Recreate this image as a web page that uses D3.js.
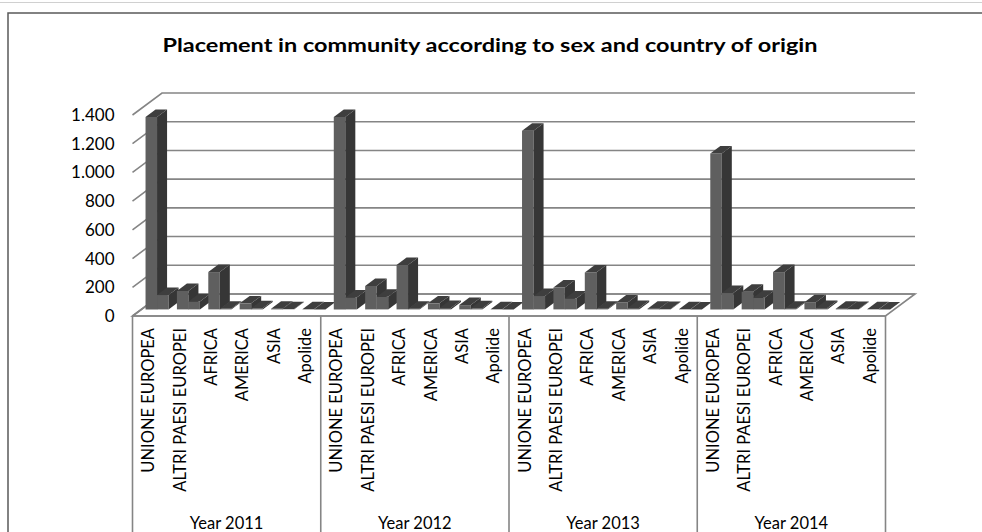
<!DOCTYPE html>
<html>
<head>
<meta charset="utf-8">
<script src="https://cdn.jsdelivr.net/npm/d3@7"></script>
<style>
  html, body { margin: 0; padding: 0; background: #fff; }
  svg { display: block; font-family: Lato, "Open Sans", sans-serif; }
</style>
</head>
<body>
<div id="chart"></div>
<script>
// data
const years = ["Year 2011", "Year 2012", "Year 2013", "Year 2014"];
const origins = ["UNIONE EUROPEA", "ALTRI PAESI EUROPEI", "AFRICA", "AMERICA", "ASIA", "Apolide"];
// first series (left column of each pair)
const seriesA = [1340, 128, 260, 42, 4, 1,
                 1340, 163, 309, 42, 30, 1,
                 1245, 152, 257, 48, 5, 1,
                 1086, 123, 260, 50, 5, 1];
// second series (right column of each pair)
const seriesB = [100, 55, 4, 8, 2, 0,
                 83, 88, 5, 10, 8, 0,
                 93, 76, 5, 10, 3, 0,
                 114, 81, 5, 10, 3, 0];
const yTicks = [0, 200, 400, 600, 800, 1000, 1200, 1400];
const title = "Placement in community according to sex and country of origin";

var width = 982, height = 532;

var svg = d3.select('#chart').
    append('svg').
    attr('width', width).
    attr('height', height);

// frame
svg.append('line').attr('x1', 0).attr('x2', width).attr('y1', 2.5).attr('y2', 2.5)
    .attr('stroke', '#d0d0d0').attr('stroke-width', 1);
svg.append('path').attr('d', 'M8,' + height + 'V13H' + width)
    .attr('fill', 'none').attr('stroke', '#5a5a5a').attr('stroke-width', 1.5);

svg.append('text').
    attr('x', 490).attr('y', 52).
    attr('text-anchor', 'middle').
    attr('font-weight', 'bold').
    attr('font-size', 19).
    attr('textLength', 655).
    attr('lengthAdjust', 'spacingAndGlyphs').
    text(title);

// categories = year x origin
var cats = [];
years.forEach(function(yr, i) {
    origins.forEach(function(o, j) { cats.push({year: yr, origin: o, i: cats.length}); });
});

var x = d3.scaleBand().domain(d3.range(cats.length)).range([132.5, 885.5]);
var xs = d3.scaleBand().domain([0, 1]).range([0, 23]);
var y = d3.scaleLinear().domain([0, 1400]).range([316, 115]);
var D = [29.5, -22];          // depth vector of the floor
var tf = 0.30, tb = 0.64;     // front / back depth of the columns

function proj(px, v, t) { return [px + D[0] * t, y(v) + D[1] * t]; }

var grid = svg.append('g').attr('stroke', '#858585').attr('stroke-width', 1.6).attr('fill', 'none');
var x0 = x.range()[0], x1 = x.range()[1];

// floor
var fl = [proj(x0, 0, 0), proj(x1, 0, 0), proj(x1, 0, 1), proj(x0, 0, 1)];
grid.append('path').attr('d', 'M' + fl.join('L') + 'Z').attr('fill', '#fff');

// back wall gridlines and side wall diagonals
yTicks.forEach(function(v) {
    var a = proj(x0, v, 0), b = proj(x0, v, 1), c = proj(x1, v, 1);
    grid.append('path').attr('d', 'M' + a + 'L' + b + 'L' + c);
});

// value labels
var fmt = d3.formatLocale({decimal: ',', thousands: '.', grouping: [3], currency: ['', '']}).format(',d');
var yAxis = svg.append('g').
    attr('transform', 'translate(' + (x0 - 16) + ',0)').
    call(d3.axisLeft(y).tickValues(yTicks).tickSize(0).tickPadding(2).tickFormat(fmt));
yAxis.select('.domain').remove();
yAxis.selectAll('text').attr('font-size', 17).attr('fill', '#000').attr('font-family', 'Lato, sans-serif');

// columns
var bars = [];
cats.forEach(function(c) {
    bars.push({i: c.i, s: 0, v: seriesA[c.i]});
    bars.push({i: c.i, s: 1, v: seriesB[c.i]});
});
var off = (x.bandwidth() - xs.range()[1]) / 2;
var bw = xs.bandwidth();

var g = svg.selectAll('g.bar').data(bars).enter().append('g').attr('class', 'bar');
function face(d, kind) {
    var l = x(d.i) + off + xs(d.s), r = l + bw;
    var pts;
    if (kind === 'front') pts = [proj(l, 0, tf), proj(r, 0, tf), proj(r, d.v, tf), proj(l, d.v, tf)];
    if (kind === 'side') pts = [proj(r, 0, tf), proj(r, 0, tb), proj(r, d.v, tb), proj(r, d.v, tf)];
    if (kind === 'top') pts = [proj(l, d.v, tf), proj(r, d.v, tf), proj(r, d.v, tb), proj(l, d.v, tb)];
    return 'M' + pts.join('L') + 'Z';
}
g.append('path').attr('d', function(d) { return face(d, 'front'); }).attr('fill', '#5f5f5f');
g.append('path').attr('d', function(d) { return face(d, 'side'); }).attr('fill', '#363636');
g.append('path').attr('d', function(d) { return face(d, 'top'); }).attr('fill', '#3e3e3e');

// category table below the floor
var tab = svg.append('g').attr('stroke', '#858585').attr('stroke-width', 1.6);
tab.append('line').attr('x1', x0).attr('x2', x1).attr('y1', y(0)).attr('y2', y(0));
d3.range(0, cats.length + 1, origins.length).forEach(function(k) {
    var px = k < cats.length ? x(k) : x1;
    tab.append('line').attr('x1', px).attr('x2', px).attr('y1', y(0)).attr('y2', height);
});

svg.selectAll('text.cat').data(cats).enter().append('text').
    attr('class', 'cat').
    attr('transform', function(d) { return 'translate(' + (x(d.i) + x.bandwidth() / 2) + ',328) rotate(-90)'; }).
    attr('dy', '0.36em').
    attr('text-anchor', 'end').
    attr('font-size', 16.5).
    text(function(d) { return d.origin; });

svg.selectAll('text.year').data(years).enter().append('text').
    attr('class', 'year').
    attr('x', function(d, i) { return x(i * origins.length) + x.bandwidth() * origins.length / 2; }).
    attr('y', 529).
    attr('text-anchor', 'middle').
    attr('font-size', 16.5).
    text(function(d) { return d; });
</script>
</body>
</html>
